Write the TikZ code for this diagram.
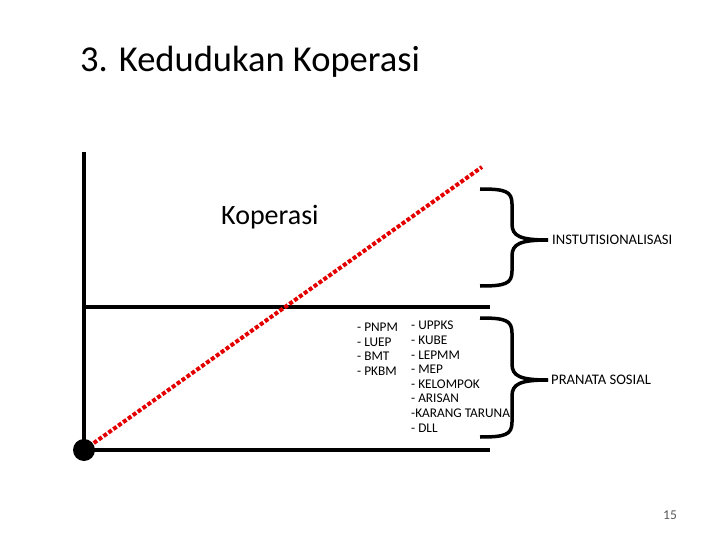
\documentclass[tikz,border=0pt]{standalone}
\usepackage{fontspec}
\setmainfont{Carlito}
\usetikzlibrary{positioning}

\newcommand{\bracepath}[3]{% top y, bottom y, middle y
  \draw[brace] (480,#1) .. controls (505,#1) and (512,#1+2) .. (512,#1+15) -- (512,#3-16)
    .. controls (512,#3-4) and (520,#3) .. (548,#3);
  \draw[brace] (480,#2) .. controls (505,#2) and (512,#2-2) .. (512,#2-15) -- (512,#3+16)
    .. controls (512,#3+4) and (520,#3) .. (548,#3);
}

\begin{document}
\begin{tikzpicture}[x=1pt, y=-1pt,
    axis/.style={line width=4pt},
    brace/.style={line width=3.5pt},
    item/.style={anchor=west, font=\fontsize{13.3}{14.6}\selectfont, align=left, inner sep=0pt}]
    \useasboundingbox (0,0) rectangle (720,540);

    \node[anchor=base west, inner sep=0pt, font=\fontsize{36.5}{40}\selectfont] (title) at (80,72) {3. Kedudukan Koperasi};

    % axes
    \coordinate (origin) at (84,450);
    \draw[axis] (84,152) -- (origin);
    \draw[axis] (84,307) -- (490,307);
    \draw[axis] (origin) -- (490,450);
    \coordinate (top) at (482,167);
    \draw[red!90!black, line width=4pt, dash pattern=on 4pt off 2pt] (origin) -- (top);
    \fill (origin) circle (11);

    \node[anchor=west, inner sep=0pt, font=\fontsize{28}{32}\selectfont] (kop) at (221,217) {Koperasi};

    % brackets
    \bracepath{189}{286}{240}
    \bracepath{318}{437}{380}
    \node[anchor=west, inner sep=0pt, font=\fontsize{14.6}{16}\selectfont] (inst) at (552,240) {INSTUTISIONALISASI};
    \node[anchor=west, inner sep=0pt, font=\fontsize{14.6}{16}\selectfont] (pranata) at (551,380) {PRANATA SOSIAL};

    % lists
    \node[item, anchor=north west] (left) at (357,323) {- PNPM\\- LUEP\\- BMT\\- PKBM};
    \node[item, anchor=north west] (right) at (411,321) {- UPPKS\\- KUBE\\- LEPMM\\- MEP\\- KELOMPOK\\- ARISAN\\-KARANG TARUNA\\- DLL};

    \node[font=\fontsize{13.5}{15}\selectfont, text=gray!70!black] (page) at (670,515) {15};
\end{tikzpicture}
\end{document}
